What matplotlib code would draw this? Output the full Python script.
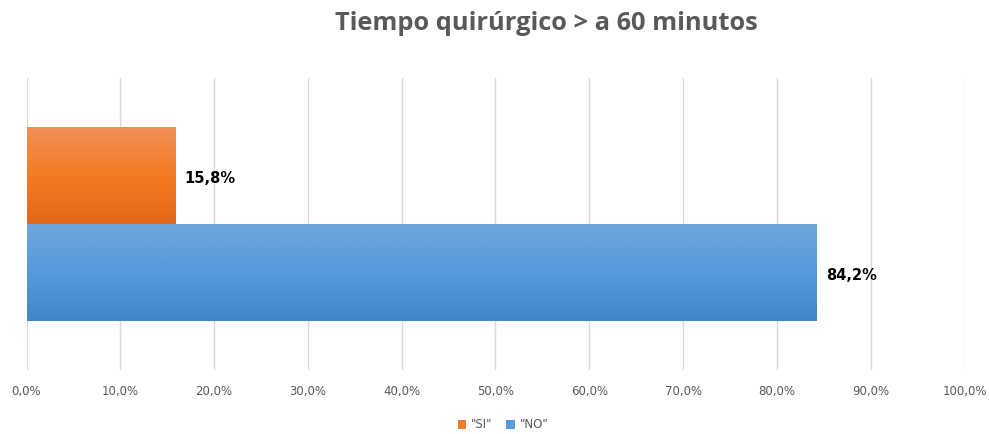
import numpy as np
import matplotlib
matplotlib.use("Agg")
import matplotlib.pyplot as plt
from matplotlib.colors import LinearSegmentedColormap
from matplotlib.patches import Patch

# share of surgeries lasting more than 60 minutes
series = ['"SI"', '"NO"']
values = [15.8, 84.2]
ticks = list(range(0, 101, 10))
tick_labels = ["{:.1f}%".format(t).replace(".", ",") for t in ticks]

gradients = {
    '"SI"': ["#F29058", "#F47B22", "#E2681A"],
    '"NO"': ["#70A6DC", "#559ADC", "#4186C6"],
}
legend_colors = ["#F07C2A", "#5B9BD5"]
text_gray = "#595959"

fig = plt.figure(figsize=(9.89, 4.34), dpi=100)
ax = fig.add_axes([0.0268, 0.1475, 0.9484, 0.6728])

bar_h = 0.332
ypos = [bar_h / 2, -bar_h / 2]

for name, val, y in zip(series, values, ypos):
    bar = ax.barh(y, val, height=bar_h, color="none", edgecolor="none", zorder=2)[0]
    cmap = LinearSegmentedColormap.from_list(name, gradients[name])
    grad = np.linspace(0, 1, 256).reshape(-1, 1)
    im = ax.imshow(grad, cmap=cmap, aspect="auto", origin="upper",
                   extent=[0, val, y - bar_h / 2, y + bar_h / 2], zorder=2)
    im.set_clip_path(bar)
    ax.text(val + 1.0, y - 0.009, "{:.1f}%".format(val).replace(".", ","),
            va="center", ha="left", fontsize=10.5, fontweight="bold",
            family="DejaVu Sans", color="black", zorder=3)

ax.set_xlim(0, 100)
ax.set_ylim(-0.5, 0.5)
ax.set_xticks(ticks)
ax.set_xticklabels(tick_labels, fontsize=8.5, color=text_gray, family="DejaVu Sans")
ax.set_yticks([])
ax.tick_params(axis="x", length=0, pad=11)
ax.grid(axis="x", color="#D9D9D9", linewidth=1, zorder=0)
ax.set_axisbelow(True)
for s in ax.spines.values():
    s.set_visible(False)

fig.text(546 / 989, 1 - 23 / 434, "Tiempo quirúrgico > a 60 minutos",
         ha="center", va="center", fontsize=18.3, fontweight="bold",
         color=text_gray, family="Open Sans")

handles = [Patch(facecolor=c, edgecolor="none") for c in legend_colors]
fig.legend(handles, series, loc="center", bbox_to_anchor=(503 / 989, 1 - 425 / 434),
           ncol=2, frameon=False, handlelength=0.7, handleheight=0.7,
           handletextpad=0.4, columnspacing=1.2, labelcolor=text_gray,
           prop={"family": "DejaVu Sans", "size": 8.5})

fig.savefig("out.png", dpi=100, facecolor="white")
